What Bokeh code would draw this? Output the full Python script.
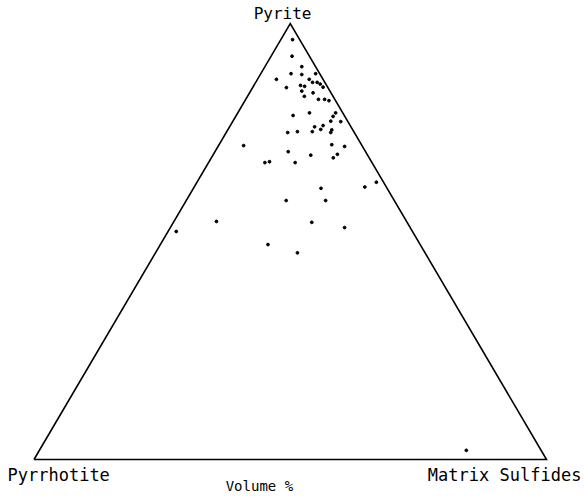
from bokeh.plotting import figure
from bokeh.models import Range1d, Label, ColumnDataSource
from bokeh.embed import file_html
from bokeh.resources import INLINE

# Volume % of each sample (Pyrite, Matrix Sulfides); Pyrrhotite = 100 - both
pyrite = [96.3, 92.5, 90.1, 88.5, 88.3, 88.5, 87.2, 87.2, 86.5, 86.5,
          86.1, 85.4, 85.8, 85.3, 85.6, 84.5, 84.1, 83.3, 82.6, 82.6,
          82.3, 79.5, 79.5, 78.7, 78.9, 77.6, 77.5, 76.3, 76.6, 75.7,
          75.6, 75.0, 75.2, 75.2, 75.0, 72.0, 72.2, 71.8, 70.6, 69.8,
          70.0, 69.2, 68.1, 68.3, 68.1, 62.5, 63.6, 62.2, 59.4, 59.4,
          54.6, 54.4, 52.3, 53.2, 49.3, 47.4, 2.1]
matrix = [2.3, 4.1, 7.2, 5.9, 8.1, 10.7, 3.7, 10.1, 11.1, 12.0,
          12.8, 13.7, 9.1, 6.6, 10.0, 10.0, 12.4, 11.1, 14.2, 15.4,
          16.4, 14.0, 19.1, 19.0, 11.1, 19.1, 21.1, 16.6, 18.1, 18.1,
          20.3, 12.0, 13.8, 16.7, 20.4, 4.9, 22.0, 24.7, 14.3, 19.1,
          24.2, 23.8, 11.0, 11.8, 16.9, 33.3, 35.0, 24.9, 19.5, 27.2,
          8.3, 27.0, 1.6, 34.0, 21.0, 27.7, 83.3]
pyrrhotite = [round(100 - a - b, 1) for a, b in zip(pyrite, matrix)]

corner_labels = ["Pyrite", "Pyrrhotite", "Matrix Sulfides"]
axis_title = "Volume  %"


def to_xy(py, mx):
    return mx + 0.5 * py, py


xs, ys = zip(*[to_xy(a, b) for a, b in zip(pyrite, matrix)])
src = ColumnDataSource(dict(x=list(xs), y=list(ys), pyrite=pyrite,
                            matrix=matrix, pyrrhotite=pyrrhotite))

p = figure(width=584, height=498, output_backend="svg", toolbar_location=None,
           x_range=Range1d(-6.537, 107.41), y_range=Range1d(-8.94, 105.28),
           min_border=0, background_fill_color="white")
p.axis.visible = False
p.grid.visible = False
p.outline_line_color = None

# triangle frame (corners = 100% of each component)
tri = [to_xy(0, 0), to_xy(0, 100), to_xy(100, 0), to_xy(0, 0)]
p.line([t[0] for t in tri], [t[1] for t in tri], line_color="black",
       line_width=1.6, line_join="miter")

p.scatter("x", "y", source=src, size=2.8, color="black")

font = "DejaVu Sans Mono"
p.add_layout(Label(x=48.5, y=102.4, text=corner_labels[0], text_align="center",
                   text_baseline="alphabetic", text_font=font, text_font_size="16px",
                   text_color="black"))
p.add_layout(Label(x=-5.17, y=-3.6, text=corner_labels[1], text_align="left",
                   text_baseline="alphabetic", text_font=font, text_font_size="17px",
                   text_color="black"))
p.add_layout(Label(x=106.8, y=-3.6, text=corner_labels[2], text_align="right",
                   text_baseline="alphabetic", text_font=font, text_font_size="17px",
                   text_color="black"))
p.add_layout(Label(x=44.8, y=-6.0, text=axis_title, text_align="center",
                   text_baseline="alphabetic", text_font=font, text_font_size="14px",
                   text_color="black"))

open("out.html", "w").write(file_html(p, INLINE))
